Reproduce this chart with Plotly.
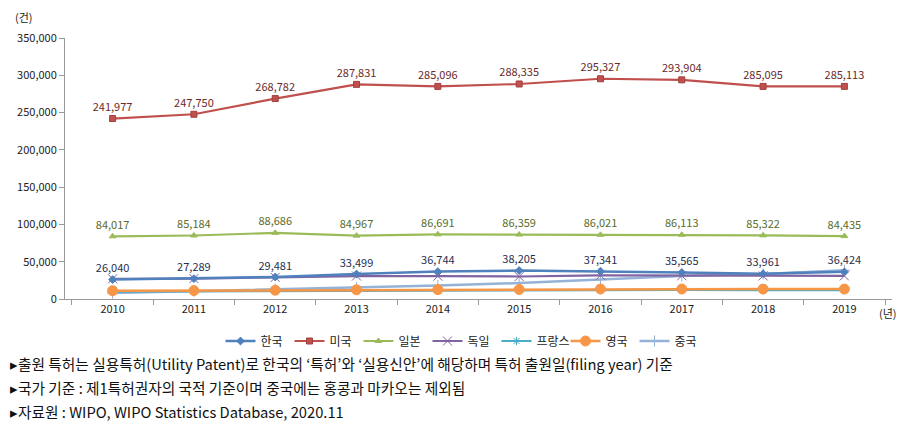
import plotly.graph_objects as go

years = ["2010", "2011", "2012", "2013", "2014", "2015", "2016", "2017", "2018", "2019"]
korea = [26040, 27289, 29481, 33499, 36744, 38205, 37341, 35565, 33961, 36424]
usa = [241977, 247750, 268782, 287831, 285096, 288335, 295327, 293904, 285095, 285113]
japan = [84017, 85184, 88686, 84967, 86691, 86359, 86021, 86113, 85322, 84435]
germany = [27100, 27400, 29000, 30800, 30600, 30200, 31800, 31200, 31000, 31000]
france = [10000, 10400, 10900, 11300, 11600, 11800, 12200, 12200, 12000, 12000]
uk = [11000, 11300, 11800, 12300, 12600, 12800, 13400, 13400, 13300, 13300]
china = [8000, 10500, 13300, 15100, 18000, 21400, 26000, 31000, 33500, 38500]

names = ["한국", "미국", "일본", "독일", "프랑스", "영국", "중국"]
FONT = "Noto Sans CJK KR"

fig = go.Figure()

def add(name, vals, color, symbol, size, width, labels=None, lcolor=None, mline=None):
    fig.add_trace(go.Scatter(
        x=years, y=vals, name=name,
        mode="lines+markers+text" if labels else "lines+markers",
        line=dict(color=color, width=width),
        marker=dict(symbol=symbol, size=size, color=color,
                    line=dict(color=mline or color, width=1)),
        text=[f"{v:,}" for v in vals] if labels else None,
        textposition="top center",
        textfont=dict(color=lcolor, size=11, family=FONT),
        cliponaxis=False,
    ))

add(names[1], usa, "#C0504D", "square", 6, 2.2, True, "#6B2A2A", mline="#A0403D")
add(names[2], japan, "#9BBB59", "triangle-up", 6, 2.2, True, "#5A6B2A")
add(names[6], china, "#95B3D7", "cross-thin", 8, 2.5, mline="#95B3D7")
add(names[4], france, "#4BACC6", "asterisk", 7, 2.2, mline="#4BACC6")
add(names[5], uk, "#F79646", "circle", 10, 2.5)
add(names[3], germany, "#8064A2", "x-thin", 9, 2.2, mline="#8064A2")
add(names[0], korea, "#4F81BD", "diamond", 6, 2.5, True, "#1F3050")

order = {n: i for i, n in enumerate(names)}
for t in fig.data:
    t.legendrank = order[t.name]

notes = [
    "▸출원 특허는 실용특허(Utility Patent)로 한국의 ‘특허’와 ‘실용신안’에 해당하며 특허 출원일(filing year) 기준",
    "▸국가 기준 : 제1특허권자의 국적 기준이며 중국에는 홍콩과 마카오는 제외됨",
    "▸자료원 : WIPO, WIPO Statistics Database, 2020.11",
]
OFF = 8  # page body margin
W, H = 912 - OFF, 438 - OFF
L, R, T, B = 65 - OFF, 20, 38 - OFF, 139
pw, ph = W - L - R, H - T - B
def px(xp, yp):
    return (xp - OFF - L) / pw, (H - B - (yp - OFF)) / ph

ann_list = []
for i, n in enumerate(notes):
    x, y = px(8, 363 + 24 * i)
    ann_list.append(dict(text=n, x=x, y=y, xref="paper", yref="paper", showarrow=False,
                         xanchor="left", yanchor="middle",
                         font=dict(size=14.7, family=FONT, color="#111")))
x, y = px(24, 17)
ann_list.append(dict(text="(건)", x=x, y=y, xref="paper", yref="paper", showarrow=False,
                     xanchor="center", yanchor="middle",
                     font=dict(size=11, family=FONT, color="#222")))
x, y = px(888, 313)
ann_list.append(dict(text="(년)", x=x, y=y, xref="paper", yref="paper", showarrow=False,
                     xanchor="center", yanchor="middle",
                     font=dict(size=11, family=FONT, color="#222")))

x, y = px(462, 341)
fig.update_layout(
    width=W, height=H,
    margin=dict(l=L, r=R, t=T, b=B, autoexpand=False),
    paper_bgcolor="white", plot_bgcolor="white",
    font=dict(family=FONT, size=11, color="#222"),
    xaxis=dict(type="category", tickson="boundaries", ticks="outside", ticklen=5,
               tickcolor="#999", showline=True, linecolor="#999", showgrid=False,
               tickfont=dict(size=11), automargin=False),
    yaxis=dict(range=[0, 350000], dtick=50000, tickformat=",", ticks="outside", ticklen=5,
               tickcolor="#999", showline=True, linecolor="#999", showgrid=False,
               zeroline=False, tickfont=dict(size=11), automargin=False),
    legend=dict(orientation="h", x=x, y=y, xanchor="center", yanchor="middle",
                font=dict(size=12, family=FONT), itemwidth=30, entrywidth=24,
                tracegroupgap=0, bgcolor="rgba(0,0,0,0)"),
    annotations=ann_list,
)

fig.write_html("out.html")
